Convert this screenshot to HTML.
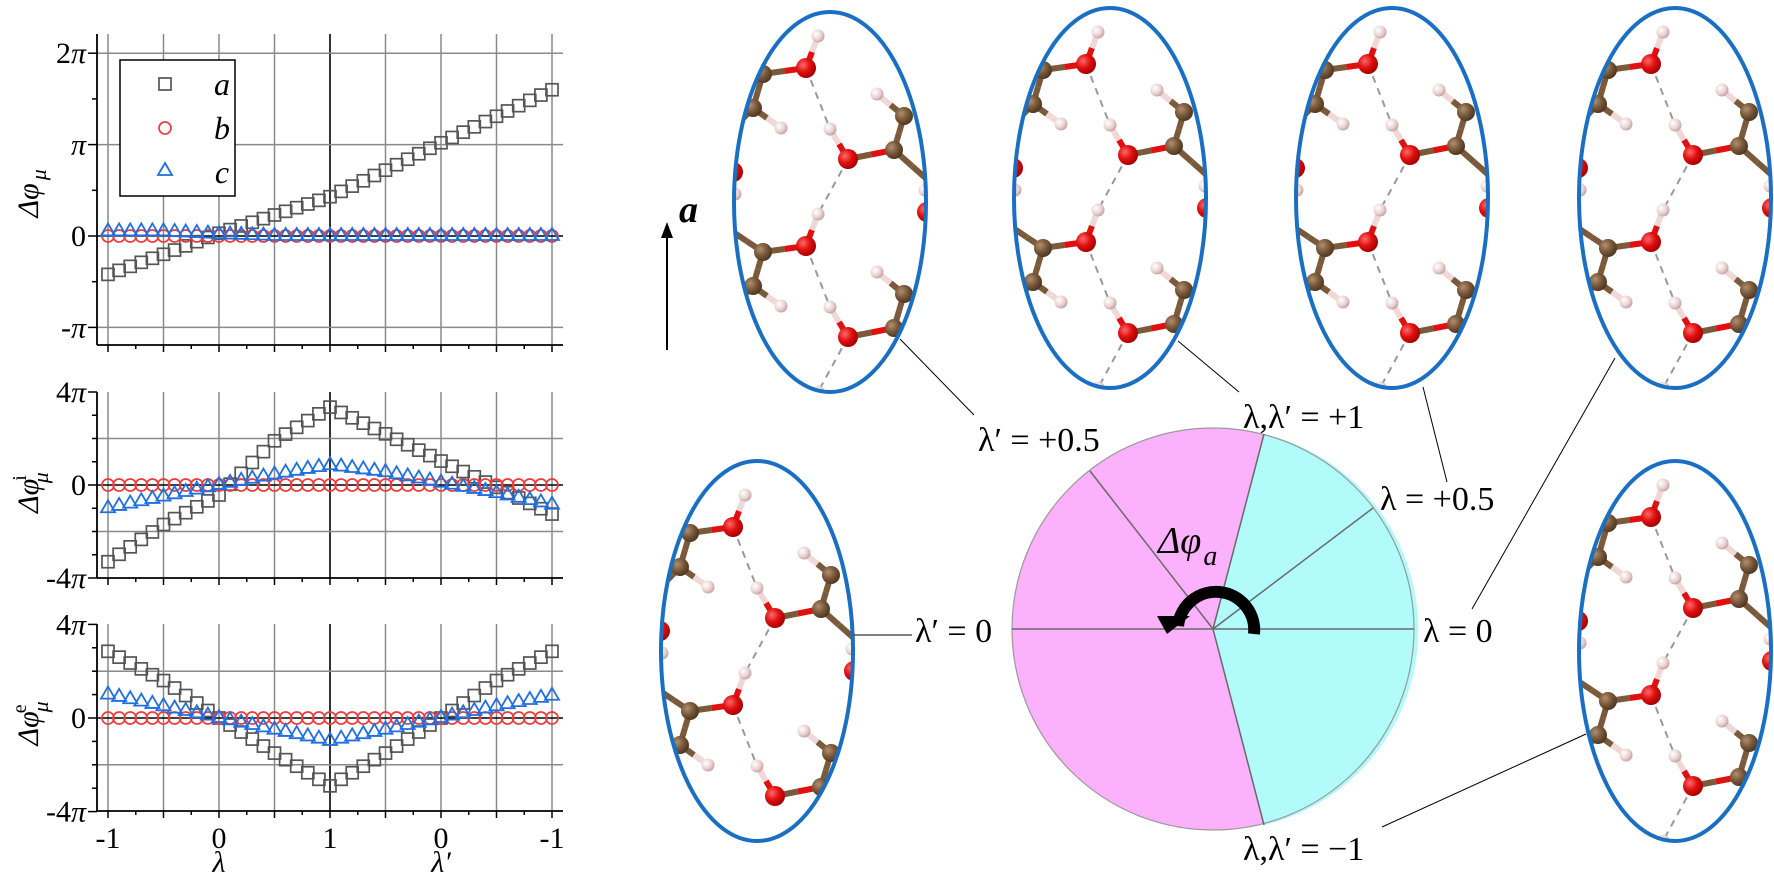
<!DOCTYPE html>
<html><head><meta charset="utf-8"><style>
html,body{margin:0;padding:0;background:#fff;width:1774px;height:881px;overflow:hidden}
svg{display:block}
text{font-family:'Liberation Serif','Times New Roman','DejaVu Serif',serif}
</style></head><body>
<svg id="s" width="1774" height="881" viewBox="0 0 1774 881" xmlns="http://www.w3.org/2000/svg" style="font-family:'Liberation Serif','DejaVu Serif',serif">
<defs>
<clipPath id="c1"><ellipse cx="830" cy="202" rx="96" ry="190"/></clipPath>
<clipPath id="c2"><ellipse cx="1110" cy="198" rx="96" ry="190"/></clipPath>
<clipPath id="c3"><ellipse cx="1392" cy="198" rx="96" ry="190"/></clipPath>
<clipPath id="c4"><ellipse cx="1675" cy="198" rx="96" ry="190"/></clipPath>
<clipPath id="c5"><ellipse cx="757" cy="651" rx="96" ry="190"/></clipPath>
<clipPath id="c6"><ellipse cx="1675" cy="651" rx="96" ry="190"/></clipPath>
<radialGradient id="gO" cx="0.35" cy="0.35" r="0.7"><stop offset="0" stop-color="#ff6a6a"/><stop offset="0.5" stop-color="#e01010"/><stop offset="1" stop-color="#a00000"/></radialGradient>
<radialGradient id="gC" cx="0.35" cy="0.35" r="0.7"><stop offset="0" stop-color="#b09070"/><stop offset="0.5" stop-color="#7a5a3a"/><stop offset="1" stop-color="#4a3420"/></radialGradient>
<radialGradient id="gH" cx="0.35" cy="0.35" r="0.7"><stop offset="0" stop-color="#fff"/><stop offset="0.6" stop-color="#ead2d2"/><stop offset="1" stop-color="#c0a0a0"/></radialGradient>
</defs>
<g id="plots"></g>
<g id="right"></g>
</svg>
<script>
(function(){
const NS="http://www.w3.org/2000/svg";
function el(p,t,a,txt){const e=document.createElementNS(NS,t);for(const k in a)e.setAttribute(k,a[k]);if(t=='text')e.setAttribute('style',"font-family:'Liberation Serif','DejaVu Serif',serif");if(txt!==undefined)e.textContent=txt;p.appendChild(e);return e;}
const G=document.getElementById('plots');
const X0=108,DX=11.1,XR=563,XL=97;
function xi(i){return X0+i*DX;}
function interp(arr,i){const k=Math.min(Math.floor(i/5),7);const f=(i-k*5)/5;return arr[k]+(arr[k+1]-arr[k])*f;}
const plots=[
 {top:34,bot:345,y0:236,u:91.4,grid:[2,1,0,-1],ticks:[2,1.5,1,0.5,0,-0.5,-1],major:[2,1,0,-1],
  labels:[[2,"2"],[1,""],[0,"0"],[-1,"-"]],
  a:[-0.42,-0.2,0.03,0.23,0.43,0.72,1.02,1.31,1.6],b:[0,0,0,0,0,0,0,0,0],c:[0.05,0.05,0.02,0,0,0,0,0,0],sup:""},
 {top:392,bot:578,y0:485,u:23.25,grid:[2,0,-2],ticks:[4,3,2,1,0,-1,-2,-3,-4],major:[4,0,-4],
  labels:[[4,"4"],[0,"0"],[-4,"-4"]],
  a:[-3.3,-1.7,-0.43,1.9,3.35,2.2,1.03,-0.1,-1.25],b:[0,0,0,0,0,0,0,0,0],c:[-1.0,-0.5,0,0.45,0.85,0.55,0.1,-0.35,-0.85],sup:"i"},
 {top:624,bot:811,y0:718,u:23.4,grid:[2,0,-2],ticks:[4,3,2,1,0,-1,-2,-3,-4],major:[4,0,-4],
  labels:[[4,"4"],[0,"0"],[-4,"-4"]],
  a:[2.85,1.6,0,-1.5,-2.9,-1.5,0,1.6,2.85],b:[0,0,0,0,0,0,0,0,0],c:[1.0,0.5,0,-0.5,-0.98,-0.5,0,0.5,0.95],sup:"e"}
];
plots.forEach(function(P,pi){
 const Y=function(v){return P.y0-v*P.u;};
 for(let j=0;j<9;j++){const x=X0+j*55.5;el(G,'line',{x1:x,y1:P.top,x2:x,y2:P.bot,stroke:j==4?'#000':'#8a8a8a','stroke-width':j==4?1.6:1.5});}
 P.grid.forEach(function(v){el(G,'line',{x1:XL,y1:Y(v),x2:XR,y2:Y(v),stroke:v==0?'#000':'#8a8a8a','stroke-width':1.5});});
 el(G,'line',{x1:XL,y1:P.top,x2:XL,y2:P.bot,stroke:'#000','stroke-width':1.8});
 el(G,'line',{x1:XL,y1:P.bot,x2:XR,y2:P.bot,stroke:'#000','stroke-width':1.8});
 P.ticks.forEach(function(v){const L=P.major.includes(v)?9:5;el(G,'line',{x1:XL-L,y1:Y(v),x2:XL,y2:Y(v),stroke:'#000','stroke-width':1.5});});
 for(let j=0;j<=16;j++){const x=X0+j*27.75;const L=j%2==0?7:4;el(G,'line',{x1:x,y1:P.bot,x2:x,y2:P.bot+L,stroke:'#000','stroke-width':1.5});}
 P.labels.forEach(function(l){const v=l[0],s=l[1];const t=el(G,'text',{x:86,y:Y(v)+10,'text-anchor':'end','font-size':30});
   if(v==0){t.textContent="0";}else{el(t,'tspan',{},s);el(t,'tspan',{'font-style':'italic'},'\u03c0');}});
 const cy=(P.top+P.bot)/2;
 const tt=el(G,'text',{x:0,y:0,'font-size':30,'font-style':'italic',transform:'translate(38 '+(cy+28)+') rotate(-90)'});
 el(tt,'tspan',{},'\u0394\u03c6');
 if(P.sup){el(tt,'tspan',{dx:-2,dy:-12,'font-size':20,'font-style':'normal'},P.sup);el(tt,'tspan',{dx:-8,dy:22,'font-size':22},'\u03bc');}
 else{el(tt,'tspan',{dx:3,dy:8,'font-size':22},'\u03bc');}
 for(let i=0;i<=40;i++){const x=xi(i),y=Y(interp(P.a,i));el(G,'rect',{x:x-6,y:y-6,width:12,height:12,fill:'none',stroke:'#555','stroke-width':1.7});}
 for(let i=0;i<=40;i++){const x=xi(i),y=Y(interp(P.b,i));el(G,'circle',{cx:x,cy:y,r:6,fill:'none',stroke:'#ee3b3b','stroke-width':1.7});}
 for(let i=0;i<=40;i++){const x=xi(i),y=Y(interp(P.c,i));el(G,'polygon',{points:x+','+(y-8)+' '+(x+7)+','+(y+4)+' '+(x-7)+','+(y+4),fill:'none',stroke:'#1f6fe0','stroke-width':1.8});}
});
[["-1",108],["0",219],["1",330],["0",441],["-1",552]].forEach(function(a){el(G,'text',{x:a[1],y:848,'text-anchor':'middle','font-size':30},a[0]);});
el(G,'text',{x:219,y:872,'text-anchor':'middle','font-size':30,'font-style':'italic'},'\u03bb');
el(G,'text',{x:441,y:872,'text-anchor':'middle','font-size':30,'font-style':'italic'},'\u03bb\u2032');
el(G,'rect',{x:120,y:60,width:115,height:136,fill:'#fff',stroke:'#000','stroke-width':1.5});
el(G,'rect',{x:159,y:78,width:12,height:12,fill:'none',stroke:'#555','stroke-width':1.7});
el(G,'circle',{cx:165,cy:128,r:6,fill:'none',stroke:'#ee3b3b','stroke-width':1.7});
el(G,'polygon',{points:"165,163 172,175 158,175",fill:'none',stroke:'#1f6fe0','stroke-width':1.8});
[["a",95],["b",139],["c",183]].forEach(function(a){el(G,'text',{x:222,y:a[1],'text-anchor':'middle','font-size':32,'font-style':'italic'},a[0]);});

const R=document.getElementById('right');
const bonds=[
 [[-67,-128],[-24,-134],'bO'],[[-67,-128],[-77,-94],'b'],[[-77,-94],[-49,-74],'bH'],[[-24,-134],[-12,-166],'bOH'],
 [[-67,-128],[-100,-150],'b'],[[-77,-94],[-100,-70],'b'],
 [[18,-43],[64,-52],'bO'],[[64,-52],[74,-86],'b'],[[74,-86],[47,-108],'bH'],[[18,-43],[0,-73],'bOH'],[[64,-52],[100,-20],'b']
];
const dashes=[[[-24,-134],[0,-73]],[[18,-43],[-12,12]]];
const spheres=[[-97,-30,'O'],[-95,-8,'H'],[-49,-74,'H'],[-12,-166,'H'],[-77,-94,'C'],[-67,-128,'C'],[-24,-134,'O'],[47,-108,'H'],[0,-73,'H'],[74,-86,'C'],[64,-52,'C'],[18,-43,'O'],[97,10,'O'],[95,-12,'H']];
function mol(cx,cy,ecy,clip){
 const g=el(R,'g',{'clip-path':'url(#'+clip+')'});
 const lo=ecy-195,hi=ecy+195;
 const ok=function(y){return y>lo&&y<hi;};
 [-178,0,178,356].forEach(function(dy){
  const T=function(p){return [cx+p[0],cy+p[1]+dy];};
  dashes.forEach(function(d){const a=T(d[0]),b=T(d[1]);if(!ok(a[1])||!ok(b[1]))return;el(g,'line',{x1:a[0],y1:a[1],x2:b[0],y2:b[1],stroke:'#999','stroke-width':2,'stroke-dasharray':'7 6'});});
  bonds.forEach(function(o){const a=T(o[0]),b=T(o[1]);if(!ok(a[1])||!ok(b[1]))return;const mx=(a[0]+b[0])/2,my=(a[1]+b[1])/2;const t=o[2];
   const c1=t=='bOH'?'#e01010':'#7a5a3a';const c2=t=='bO'?'#e01010':(t=='bOH'||t=='bH')?'#f0d8d8':'#7a5a3a';
   el(g,'line',{x1:a[0],y1:a[1],x2:mx,y2:my,stroke:c1,'stroke-width':6});el(g,'line',{x1:mx,y1:my,x2:b[0],y2:b[1],stroke:c2,'stroke-width':6});});
  spheres.forEach(function(s){const p=T(s);if(!ok(p[1]))return;const r=s[2]=='O'?10:s[2]=='C'?9:6.5;el(g,'circle',{cx:p[0],cy:p[1],r:r,fill:'url(#g'+s[2]+')'});});
 });
}
const E=[[830,202,'c1'],[1110,198,'c2'],[1392,198,'c3'],[1675,198,'c4'],[757,651,'c5'],[1675,651,'c6']];
E.forEach(function(e,k){mol(e[0],e[1]+(k==4?10:0),e[1],e[2]);el(R,'ellipse',{cx:e[0],cy:e[1],rx:96,ry:190,fill:'none',stroke:'#1a6fc2','stroke-width':4});});
el(R,'line',{x1:667,y1:350,x2:667,y2:236,stroke:'#000','stroke-width':2});
el(R,'polygon',{points:"667,222 661,238 673,238",fill:'#000'});
el(R,'text',{x:679,y:222,'font-size':38,'font-weight':'bold','font-style':'italic'},'a');
const ccx=1213,ccy=629,rr=201;
const pTop=[1264,434],pBot=[1264,825];
el(R,'circle',{cx:ccx,cy:ccy,r:rr,fill:'#fbb1fb'});
el(R,'path',{d:'M'+ccx+','+ccy+' L'+pTop[0]+','+pTop[1]+' A'+rr+','+rr+' 0 0 1 '+pBot[0]+','+pBot[1]+' Z',fill:'#b1fbfb'});
el(R,'circle',{cx:ccx,cy:ccy,r:rr,fill:'none',stroke:'#999','stroke-width':1.2});
[pTop,pBot,[1090,471],[1373,508],[1012,629],[1414,629]].forEach(function(p){el(R,'line',{x1:ccx,y1:ccy,x2:p[0],y2:p[1],stroke:'#6a6a6a','stroke-width':1.5});});
el(R,'path',{d:'M1254,634 A38,38 0 0 0 1178,626',fill:'none',stroke:'#000','stroke-width':12});
el(R,'polygon',{points:"1157,616 1190,616 1167,634",fill:'#000'});
const dt=el(R,'text',{x:1158,y:553,'font-size':38,'font-style':'italic'});
el(dt,'tspan',{},'\u0394\u03c6');el(dt,'tspan',{dx:2,dy:12,'font-size':28},'a');
const L=[["\u03bb\u2032 = +0.5",978,451],["\u03bb,\u03bb\u2032 = +1",1243,428],["\u03bb = +0.5",1380,510],["\u03bb\u2032 = 0",915,642],["\u03bb = 0",1423,642],["\u03bb,\u03bb\u2032 = \u22121",1243,860]];
L.forEach(function(a){el(R,'text',{x:a[1],y:a[2],'font-size':34},a[0]);});
[[900,339,974,415],[1178,341,1239,392],[1423,387,1447,482],[1615,358,1472,609],[854,635,912,635],[1586,734,1382,827]].forEach(function(l){el(R,'line',{x1:l[0],y1:l[1],x2:l[2],y2:l[3],stroke:'#000','stroke-width':1});});
})();
</script>
</body></html>
